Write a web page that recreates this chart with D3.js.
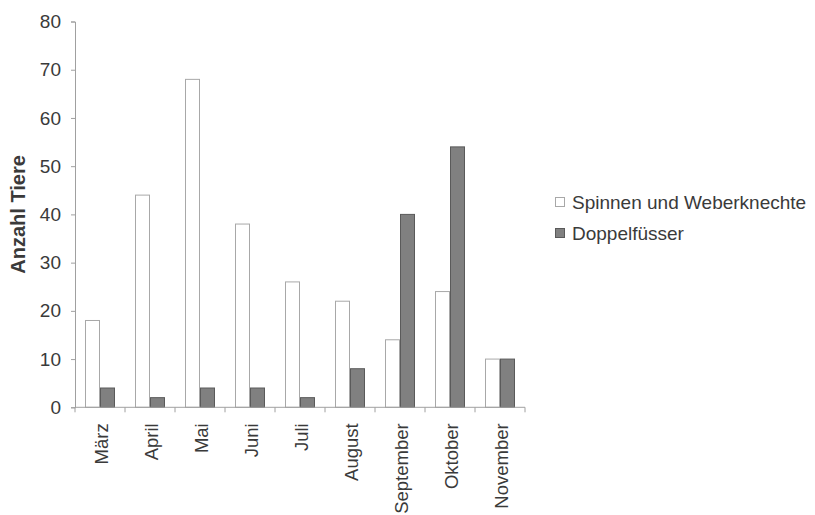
<!DOCTYPE html>
<html>
<head>
<meta charset="utf-8">
<script src="https://cdn.jsdelivr.net/npm/d3@7"></script>
<style>
  body { margin: 0; background: #fff; }
  svg { display: block; font-family: "Liberation Sans", Arial, sans-serif; }
</style>
</head>
<body>
<svg id="chart" width="815" height="515"></svg>
<script>
// Monthly counts of two animal groups
const months = ["März", "April", "Mai", "Juni", "Juli", "August", "September", "Oktober", "November"];
const spinnen = [18, 44, 68, 38, 26, 22, 14, 24, 10];
const doppelfuesser = [4, 2, 4, 4, 2, 8, 40, 54, 10];
const seriesNames = ["Spinnen und Weberknechte", "Doppelfüsser"];
const yTicks = [0, 10, 20, 30, 40, 50, 60, 70, 80];

const svg = d3.select("#chart");
const plotLeft = 75, plotRight = 525, plotTop = 21.5, plotBottom = 407.3;

const x = d3.scaleBand().domain(months).range([plotLeft, plotRight]).paddingInner(0).paddingOuter(0);
const y = d3.scaleLinear().domain([0, 80]).range([plotBottom, plotTop]);
const inner = d3.scaleBand().domain([0, 1]).range([0, x.bandwidth()]).paddingInner(0).paddingOuter(2 / 3);

const fills = ["#ffffff", "#808080"];
const strokes = ["#a8a8a8", "#5a5a5a"];
const textColor = "#3a3a3a";
const data = months.map((m, i) => ({ m, vals: [spinnen[i], doppelfuesser[i]] }));

// Bars
const groups = svg.append("g").selectAll("g").data(data).join("g")
  .attr("transform", d => `translate(${x(d.m)},0)`);
groups.selectAll("rect").data(d => d.vals.map((v, k) => ({ v, k }))).join("rect")
  .attr("x", d => inner(d.k) + 0.5)
  .attr("y", d => y(d.v))
  .attr("width", inner.bandwidth() - 1)
  .attr("height", d => plotBottom - y(d.v))
  .attr("fill", d => fills[d.k])
  .attr("stroke", d => strokes[d.k])
  .attr("stroke-width", 1);

// Y axis
const yAxis = svg.append("g").attr("transform", `translate(${plotLeft},0)`)
  .call(d3.axisLeft(y).tickValues(yTicks).tickSize(4).tickPadding(10));
yAxis.select(".domain").attr("stroke", "#a0a0a0");
yAxis.selectAll(".tick line").attr("stroke", "#a0a0a0");
yAxis.selectAll(".tick text").attr("font-size", 19).attr("fill", textColor)
  .attr("font-family", "Liberation Sans, Arial, sans-serif");

// X axis with ticks between categories
const xAxisG = svg.append("g");
xAxisG.append("line").attr("x1", plotLeft).attr("x2", plotRight).attr("y1", plotBottom).attr("y2", plotBottom)
  .attr("stroke", "#a0a0a0");
xAxisG.selectAll("line.sep").data(months.concat(["end"])).join("line").attr("class", "sep")
  .attr("x1", (d, i) => i < months.length ? x(d) : plotRight)
  .attr("x2", (d, i) => i < months.length ? x(d) : plotRight)
  .attr("y1", plotBottom).attr("y2", plotBottom + 5)
  .attr("stroke", "#a0a0a0");
xAxisG.selectAll("text").data(months).join("text")
  .attr("transform", d => `translate(${x(d) + x.bandwidth() / 2 + 8},${plotBottom + 16}) rotate(-90)`)
  .attr("text-anchor", "end")
  .attr("font-size", 18.5)
  .attr("fill", textColor)
  .text(d => d);

// Y axis title
svg.append("text")
  .attr("transform", `translate(25,${(plotTop + plotBottom) / 2}) rotate(-90)`)
  .attr("text-anchor", "middle")
  .attr("font-size", 20)
  .attr("font-weight", "bold")
  .attr("fill", textColor)
  .text("Anzahl Tiere");

// Legend
const legend = svg.append("g").attr("transform", "translate(555,202)");
const items = legend.selectAll("g").data(seriesNames).join("g")
  .attr("transform", (d, i) => `translate(0,${i * 31})`);
items.append("rect").attr("x", 0.5).attr("y", -4.5).attr("width", 9).attr("height", 9)
  .attr("fill", (d, i) => fills[i]).attr("stroke", (d, i) => strokes[i]);
items.append("text").attr("x", 17).attr("y", 7)
  .attr("font-size", 19).attr("fill", textColor).text(d => d);
</script>
</body>
</html>
